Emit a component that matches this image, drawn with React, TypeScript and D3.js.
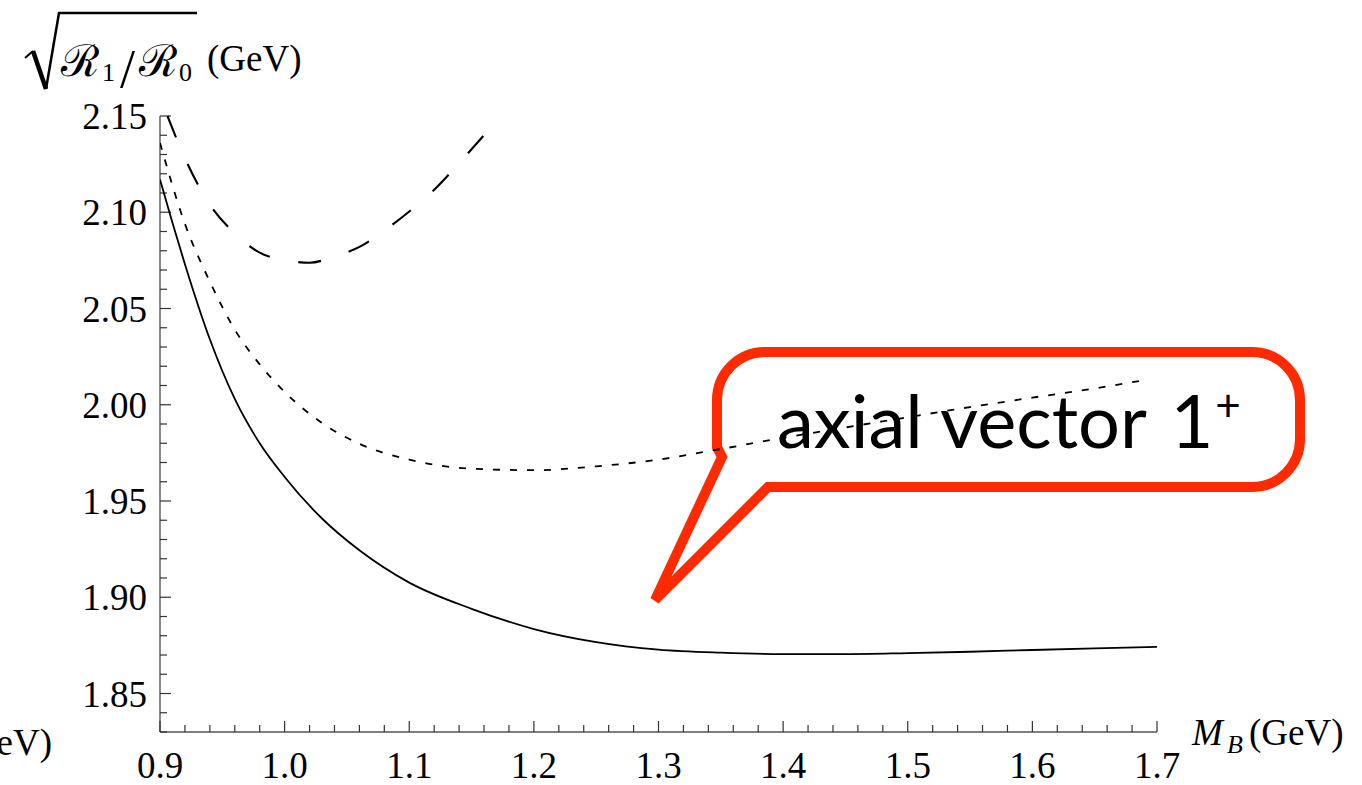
import React from "react";
import * as d3 from "d3";

// Solid curve: sqrt(R1/R0) versus M_B
const solidMass = [0.9, 0.91, 0.92, 0.94, 0.96, 0.98, 1.0, 1.03, 1.06, 1.1, 1.15, 1.2, 1.25, 1.3, 1.35, 1.4, 1.45, 1.5, 1.55, 1.6, 1.65, 1.7];
const solidValue = [2.117, 2.0945, 2.073, 2.034, 2.003, 1.98, 1.9625, 1.9409, 1.9244, 1.9076, 1.894, 1.8835, 1.8767, 1.8728, 1.8712, 1.8705, 1.8705, 1.871, 1.8717, 1.8726, 1.8734, 1.8742];

// Dotted curve
const dottedMass = [0.9, 0.92, 0.94, 0.96, 0.98, 1.0, 1.03, 1.06, 1.1, 1.15, 1.2, 1.25, 1.3, 1.35, 1.4, 1.45, 1.5, 1.55, 1.6, 1.65, 1.69];
const dottedValue = [2.136, 2.094, 2.064, 2.039, 2.021, 2.0067, 1.9905, 1.9797, 1.9715, 1.9668, 1.966, 1.968, 1.9715, 1.977, 1.9828, 1.9882, 1.9935, 1.9988, 2.0037, 2.0085, 2.0128];

// Dashed curve (enters the frame at the top edge)
const dashedMass = [0.906, 0.92, 0.94, 0.96, 0.98, 1.0, 1.02, 1.04, 1.06, 1.08, 1.1, 1.12, 1.14, 1.165];
const dashedValue = [2.15, 2.128, 2.104, 2.089, 2.079, 2.0752, 2.0738, 2.077, 2.082, 2.0905, 2.1004, 2.1117, 2.1255, 2.1437];

const xMajorTicks = [0.9, 1.0, 1.1, 1.2, 1.3, 1.4, 1.5, 1.6, 1.7];
const xTickLabels = ["0.9", "1.0", "1.1", "1.2", "1.3", "1.4", "1.5", "1.6", "1.7"];
const yMajorTicks = [1.85, 1.9, 1.95, 2.0, 2.05, 2.1, 2.15];
const yTickLabels = ["1.85", "1.90", "1.95", "2.00", "2.05", "2.10", "2.15"];

const W = 1362;
const H = 785;
const LEFT = 160;
const RIGHT = 1157;
const TOP = 116;
const BOTTOM = 732;

const serif = "'Liberation Serif', 'Times New Roman', serif";
const red = "#ff2a00";

export default function App() {
  const x = d3.scaleLinear().domain([0.9, 1.7]).range([LEFT, RIGHT]);
  const y = d3.scaleLinear().domain([1.83, 2.15]).range([BOTTOM, TOP]);

  const xMinor = d3.range(0, 41).map((i) => 0.9 + i * 0.02);
  const yMinor = d3.range(0, 33).map((i) => 1.83 + i * 0.01);

  const line = d3
    .line<[number, number]>()
    .x((d) => x(d[0]))
    .y((d) => y(d[1]))
    .curve(d3.curveMonotoneX);

  const solidPath = line(solidMass.map((m, i) => [m, solidValue[i]]) as [number, number][]) || "";
  const dottedPath = line(dottedMass.map((m, i) => [m, dottedValue[i]]) as [number, number][]) || "";
  const dashedPath = line(dashedMass.map((m, i) => [m, dashedValue[i]]) as [number, number][]) || "";

  const isMajorX = (v: number) => xMajorTicks.some((t) => Math.abs(t - v) < 1e-6);
  const isMajorY = (v: number) => yMajorTicks.some((t) => Math.abs(t - v) < 1e-6);

  // speech-bubble outline around the label
  const bubble =
    "M717,447 L717,400 A48,48 0 0 1 765,352 L1252,352 A48,48 0 0 1 1300,400 " +
    "L1300,439 A48,48 0 0 1 1252,487 L768,487 L655,600 L722,457 Z";

  return (
    <svg
      width={W}
      height={H}
      viewBox={`0 0 ${W} ${H}`}
      style={{ position: "absolute", left: 0, top: 0, background: "#fff" }}
    >
      <defs>
        <clipPath id="plotArea">
          <rect x={LEFT} y={TOP - 1} width={RIGHT - LEFT} height={BOTTOM - TOP + 1} />
        </clipPath>
      </defs>

      {/* callout */}
      <path d={bubble} fill="none" stroke={red} strokeWidth={10} strokeLinejoin="miter" strokeMiterlimit={2} />
      <text x={777} y={448} fontFamily="Lato, 'Open Sans', sans-serif" fontSize={74} textLength={370} lengthAdjust="spacing" fill="#000">
        axial vector
      </text>
      <text x={1192} y={448} textAnchor="middle" fontFamily="Lato, 'Open Sans', sans-serif" fontSize={74} fill="#000">
        1
      </text>
      <text x={1228} y={421} textAnchor="middle" fontFamily="Lato, 'Open Sans', sans-serif" fontSize={44} fill="#000">
        +
      </text>

      {/* axes */}
      <line x1={LEFT} x2={RIGHT} y1={BOTTOM} y2={BOTTOM} stroke="#555" strokeWidth={1.5} />
      <line x1={LEFT} x2={LEFT} y1={TOP} y2={BOTTOM} stroke="#8a8a8a" strokeWidth={2} />

      {xMinor.map((v, i) => (
        <line
          key={`xt${i}`}
          x1={x(v)}
          x2={x(v)}
          y1={BOTTOM}
          y2={BOTTOM - (isMajorX(v) ? 11 : 7)}
          stroke="#333"
          strokeWidth={1.2}
        />
      ))}
      {yMinor.map((v, i) => (
        <line
          key={`yt${i}`}
          x1={LEFT}
          x2={LEFT + (isMajorY(v) ? 11 : 7)}
          y1={y(v)}
          y2={y(v)}
          stroke="#333"
          strokeWidth={1.2}
        />
      ))}

      {xMajorTicks.map((v, i) => (
        <text key={`xl${i}`} x={x(v)} y={BOTTOM + 46} textAnchor="middle" fontFamily={serif} fontSize={37} fill="#000">
          {xTickLabels[i]}
        </text>
      ))}
      {yMajorTicks.map((v, i) => (
        <text key={`yl${i}`} x={147} y={y(v) + 13} textAnchor="end" fontFamily={serif} fontSize={37} fill="#000">
          {yTickLabels[i]}
        </text>
      ))}

      {/* curves */}
      <g clipPath="url(#plotArea)" fill="none" stroke="#000">
        <path d={solidPath} strokeWidth={1.8} />
        <path d={dottedPath} strokeWidth={1.8} strokeDasharray="7 10" />
        <path d={dashedPath} strokeWidth={2.1} strokeDasharray="23 29" />
      </g>

      {/* y-axis title: sqrt(R1/R0) (GeV) */}
      <path d="M25,58 L33,51" stroke="#000" strokeWidth={2} fill="none" />
      <path d="M33,51 L46,89" stroke="#000" strokeWidth={4.5} fill="none" />
      <path d="M46,89 L59,13 L197,13" stroke="#000" strokeWidth={2.5} fill="none" strokeLinejoin="miter" />
      <text x={61} y={76} fontFamily="'DejaVu Serif', serif" fontSize={44} fill="#000">
        ℛ
      </text>
      <text x={102} y={81} fontFamily={serif} fontSize={26} fill="#000">
        1
      </text>
      <text x={120} y={87} fontFamily={serif} fontSize={54} fill="#000">
        /
      </text>
      <text x={139} y={76} fontFamily="'DejaVu Serif', serif" fontSize={44} fill="#000">
        ℛ
      </text>
      <text x={179} y={81} fontFamily={serif} fontSize={26} fill="#000">
        0
      </text>
      <text x={207} y={71} fontFamily={serif} fontSize={37} fill="#000">
        (GeV)
      </text>

      {/* x-axis title */}
      <text x={1192} y={745} fontFamily={serif} fontSize={37} fontStyle="italic" fill="#000">
        M
      </text>
      <text x={1227} y={753} fontFamily={serif} fontSize={26} fontStyle="italic" fill="#000">
        B
      </text>
      <text x={1249} y={745} fontFamily={serif} fontSize={37} fill="#000">
        (GeV)
      </text>

      {/* neighbouring panel's axis unit, clipped by the page edge */}
      <text x={52} y={755} textAnchor="end" fontFamily={serif} fontSize={37} fill="#000">
        (GeV)
      </text>
    </svg>
  );
}
